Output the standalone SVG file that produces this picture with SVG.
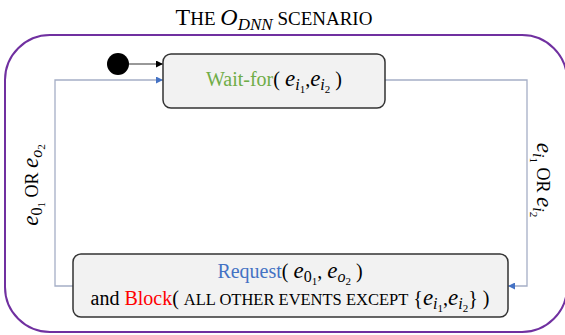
<svg xmlns="http://www.w3.org/2000/svg" width="565" height="335" viewBox="0 0 565 335">
<style>
.t{font-family:"Liberation Serif","Times New Roman",serif;fill:#000}
.m{font-style:italic}
.e{font-style:italic;font-size:23px}
.node{fill:#F2F2F2;stroke:#333;stroke-width:1.5}
.conn{fill:none;stroke:#A5AEC6;stroke-width:1.3}
</style>
<defs>
<marker id="ab" viewBox="0 0 10 10" refX="10" refY="5" markerWidth="7" markerHeight="7" orient="auto" markerUnits="userSpaceOnUse"><path d="M0,0 L10,5 L0,10 z" fill="#4472C4"/></marker>
<marker id="ak" viewBox="0 0 10 10" refX="10" refY="5" markerWidth="7" markerHeight="7" orient="auto" markerUnits="userSpaceOnUse"><path d="M0,0 L10,5 L0,10 z" fill="#000"/></marker>
</defs>
<g id="title">
<text class="t" x="274" y="25" text-anchor="middle" font-size="24">T<tspan font-size="19">HE </tspan><tspan class="m">O</tspan><tspan class="m" font-size="17" dy="5">DNN</tspan><tspan font-size="19" dy="-5"> SCENARIO</tspan></text>
</g>
<g id="frame">
<rect x="5" y="35" width="562" height="297" rx="45" ry="45" fill="none" stroke="#7030A0" stroke-width="2"/>
</g>
<g id="connectors">
<line x1="129" y1="64" x2="163" y2="64" stroke="#333" stroke-width="1" marker-end="url(#ak)"/>
<polyline class="conn" points="73,286 55,286 55,80 163,80" marker-end="url(#ab)"/>
<polyline class="conn" points="385,80 527,80 527,286 508,286" marker-end="url(#ab)"/>
</g>
<g id="initial">
<circle cx="118" cy="64" r="11" fill="#000"/>
</g>
<g id="wait">
<rect class="node" x="163" y="54" width="222" height="54" rx="8" ry="8"/>
<text class="t" x="274" y="86" text-anchor="middle" font-size="20"><tspan fill="#70AD47">Wait-for</tspan>( <tspan class="e">e</tspan><tspan class="m" font-size="16" dy="4">i</tspan><tspan font-size="11" dy="3">1</tspan><tspan dy="-7">,</tspan><tspan class="e">e</tspan><tspan class="m" font-size="16" dy="4">i</tspan><tspan font-size="11" dy="3">2</tspan><tspan dy="-7"> )</tspan></text>
</g>
<g id="request">
<rect class="node" x="73" y="254" width="435" height="63" rx="8" ry="8"/>
<text class="t" x="290" y="278" text-anchor="middle" font-size="20"><tspan fill="#4472C4">Request</tspan>( <tspan class="e">e</tspan><tspan font-size="16" dy="4">0</tspan><tspan font-size="11" dy="3">1</tspan><tspan dy="-7">, </tspan><tspan class="e">e</tspan><tspan class="m" font-size="16" dy="4">o</tspan><tspan font-size="11" dy="3">2</tspan><tspan dy="-7"> )</tspan></text>
<text class="t" x="290" y="305" text-anchor="middle" font-size="20">and <tspan fill="#FF0000">Block</tspan>( <tspan font-size="16.5">ALL OTHER EVENTS EXCEPT</tspan> {<tspan class="e">e</tspan><tspan class="m" font-size="16" dy="4">i</tspan><tspan font-size="11" dy="3">1</tspan><tspan dy="-7">,</tspan><tspan class="e">e</tspan><tspan class="m" font-size="16" dy="4">i</tspan><tspan font-size="11" dy="3">2</tspan><tspan dy="-7">} )</tspan></text>
</g>
<g id="label-left">
<text class="t" transform="translate(38,185) rotate(-90)" text-anchor="middle" font-size="20"><tspan class="e">e</tspan><tspan font-size="16" dy="4">0</tspan><tspan font-size="11" dy="3">1</tspan><tspan font-size="18" dy="-7"> OR </tspan><tspan class="e">e</tspan><tspan class="m" font-size="16" dy="4">o</tspan><tspan font-size="11" dy="3">2</tspan></text>
</g>
<g id="label-right">
<text class="t" transform="translate(537,180) rotate(90)" text-anchor="middle" font-size="20"><tspan class="e">e</tspan><tspan class="m" font-size="16" dy="4">i</tspan><tspan font-size="11" dy="3">1</tspan><tspan font-size="18" dy="-7"> OR </tspan><tspan class="e">e</tspan><tspan class="m" font-size="16" dy="4">i</tspan><tspan font-size="11" dy="3">2</tspan></text>
</g>
</svg>
